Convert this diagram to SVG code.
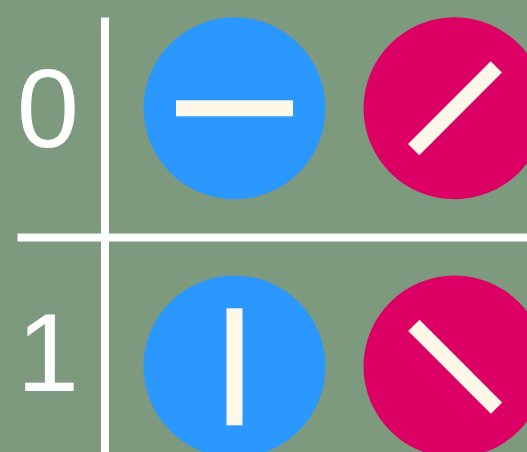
<svg xmlns="http://www.w3.org/2000/svg" width="527" height="452" viewBox="0 0 527 452">
<style>
.lbl{font-family:"Liberation Sans",Arial,sans-serif;font-size:112px;fill:#ffffff;text-anchor:middle}
.blue{fill:#2a98fe}
.red{fill:#dc0064}
.bar{fill:#fff7e8}
.grid{stroke:#ffffff;stroke-width:8;fill:none}
</style>
<rect width="527" height="452" fill="#7d997e"/>
<g id="connectors">
<line class="grid" x1="105" y1="17.5" x2="105" y2="452"/>
<line class="grid" x1="17.5" y1="237.5" x2="527" y2="237.5"/>
</g>
<g id="label-0"><text class="lbl" x="48" y="147">0</text></g>
<g id="label-1"><text class="lbl" x="48" y="391">1</text></g>
<g id="node-0-0">
<circle class="blue" cx="234.5" cy="108.3" r="91"/>
<rect class="bar" x="176" y="100.3" width="117" height="16"/>
</g>
<g id="node-0-1">
<circle class="red" cx="454.5" cy="108.3" r="91"/>
<rect class="bar" x="-58.5" y="-8" width="117" height="16" transform="translate(455,108.3) rotate(-45)"/>
</g>
<g id="node-1-0">
<circle class="blue" cx="234.5" cy="366.5" r="91"/>
<rect class="bar" x="226.5" y="308.3" width="16" height="117"/>
</g>
<g id="node-1-1">
<circle class="red" cx="454.5" cy="366.5" r="91"/>
<rect class="bar" x="-58.5" y="-8" width="117" height="16" transform="translate(455.2,366.8) rotate(45)"/>
</g>
</svg>
